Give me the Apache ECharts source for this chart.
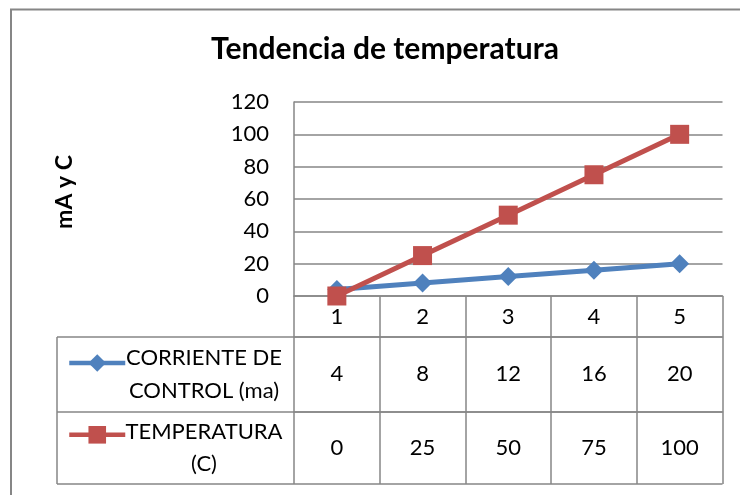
<!DOCTYPE html>
<html>
<head>
<meta charset="utf-8">
<script src="https://cdn.jsdelivr.net/npm/echarts@6/dist/echarts.min.js"></script>
<style>
  html, body { margin: 0; padding: 0; background: #fff; }
  #chart { width: 740px; height: 495px; }
</style>
</head>
<body>
<div id="chart"></div>
<script>
// Categories along the x axis
const categories = ['1', '2', '3', '4', '5'];
// Series values
const corriente = [4, 8, 12, 16, 20];
const temperatura = [0, 25, 50, 75, 100];
// Series names as shown in the data table (two lines each)
const seriesNames = ['CORRIENTE DE\nCONTROL (ma)', 'TEMPERATURA\n(C)'];
// Y axis tick range
const yMin = 0, yMax = 120, yStep = 20;

const FONT = 'Lato, "Open Sans", sans-serif';
const GRID = '#868686';
const BLUE = '#4F81BD';
const RED = '#C0504D';

// Layout of the plot and the data table under it
const W = 740, H = 495;
const plotLeft = 294, plotRight = 722.5, plotTop = 102, plotBottom = 296;
const rowHeader = 41;          // row holding the category labels
const rowA = 75, rowB = 72;    // rows holding each series' values
const tableLeft = 57;
const line1 = plotBottom + rowHeader;
const line2 = line1 + rowA;
const line3 = line2 + rowB;
const nameCenterX = 204;
const keySize = 22;

const chart = echarts.init(document.getElementById('chart'));

const valueAxis = (data, offset, margin) => ({
  type: 'category',
  data: data.map(String),
  position: 'bottom',
  offset: offset,
  boundaryGap: true,
  axisLine: { show: true, lineStyle: { color: GRID, width: 1.5 } },
  axisTick: { show: false },
  axisLabel: { margin: margin, fontFamily: FONT, fontSize: 22, lineHeight: 22, color: '#000' },
  splitLine: { show: false }
});

chart.setOption({
  animation: false,
  backgroundColor: '#fff',
  title: {
    text: 'Tendencia de temperatura',
    left: 380,
    top: 29,
    textAlign: 'center',
    textStyle: { fontFamily: FONT, fontWeight: 'bold', fontSize: 30, color: '#000' }
  },
  legend: {
    orient: 'vertical',
    left: 62,
    top: 358 - keySize / 2,
    itemWidth: 56,
    itemHeight: keySize,
    itemGap: 74 - keySize,
    formatter: () => '',
    data: seriesNames,
    selectedMode: false,
    lineStyle: { width: 4.5 }
  },
  grid: {
    left: plotLeft,
    right: W - plotRight,
    top: plotTop,
    bottom: H - plotBottom,
    containLabel: false
  },
  xAxis: [
    {
      type: 'category',
      data: categories,
      position: 'bottom',
      boundaryGap: true,
      axisLine: { show: true, lineStyle: { color: GRID, width: 1.5 } },
      axisTick: {
        show: true,
        interval: 0,
        length: line3 - plotBottom,
        lineStyle: { color: GRID, width: 1.5 }
      },
      axisLabel: { margin: 10, fontFamily: FONT, fontSize: 22, lineHeight: 22, color: '#000' },
      splitLine: { show: false }
    },
    valueAxis(corriente, rowHeader, 26),
    valueAxis(temperatura, rowHeader + rowA, 25)
  ],
  yAxis: {
    type: 'value',
    min: yMin,
    max: yMax,
    interval: yStep,
    name: 'mA y C',
    nameLocation: 'middle',
    nameGap: 218,
    nameRotate: 90,
    nameTextStyle: { fontFamily: FONT, fontWeight: 'bold', fontSize: 23, color: '#000',
                     padding: [0, 0, 0, 14] },
    axisLine: { show: true, lineStyle: { color: GRID, width: 1.5 } },
    axisTick: { show: false },
    axisLabel: { margin: 25, fontFamily: FONT, fontSize: 22, color: '#000' },
    splitLine: { show: true, lineStyle: { color: GRID, width: 1.5 } }
  },
  series: [
    {
      name: seriesNames[0],
      type: 'line',
      data: corriente,
      symbol: 'diamond',
      symbolSize: 19,
      color: BLUE,
      lineStyle: { width: 5, color: BLUE },
      itemStyle: { color: BLUE }
    },
    {
      name: seriesNames[1],
      type: 'line',
      data: temperatura,
      symbol: 'rect',
      symbolSize: 19,
      color: RED,
      lineStyle: { width: 5, color: RED },
      itemStyle: { color: RED }
    }
  ],
  graphic: [
    // outer chart frame
    { type: 'rect', silent: true, z: -1,
      shape: { x: 11, y: 9.5, width: W + 20, height: H + 20 },
      style: { fill: 'none', stroke: GRID, lineWidth: 2 } },
    // table horizontal rules reaching into the series-name column
    { type: 'line', silent: true, shape: { x1: tableLeft, y1: line1, x2: plotRight, y2: line1 },
      style: { stroke: GRID, lineWidth: 1.5 } },
    { type: 'line', silent: true, shape: { x1: tableLeft, y1: line2, x2: plotRight, y2: line2 },
      style: { stroke: GRID, lineWidth: 1.5 } },
    { type: 'line', silent: true, shape: { x1: tableLeft, y1: line3, x2: plotRight, y2: line3 },
      style: { stroke: GRID, lineWidth: 1.5 } },
    { type: 'line', silent: true, shape: { x1: tableLeft, y1: line1, x2: tableLeft, y2: line3 },
      style: { stroke: GRID, lineWidth: 1.5 } },
    // series names in the table
    { type: 'text', silent: true, x: nameCenterX, y: line1 + 4,
      style: { text: seriesNames[0], fill: '#000', font: '22px ' + FONT,
               align: 'center', verticalAlign: 'top', lineHeight: 33 } },
    { type: 'text', silent: true, x: nameCenterX, y: line2 + 4,
      style: { text: seriesNames[1], fill: '#000', font: '22px ' + FONT,
               align: 'center', verticalAlign: 'top', lineHeight: 32 } }
  ]
});
</script>
</body>
</html>
